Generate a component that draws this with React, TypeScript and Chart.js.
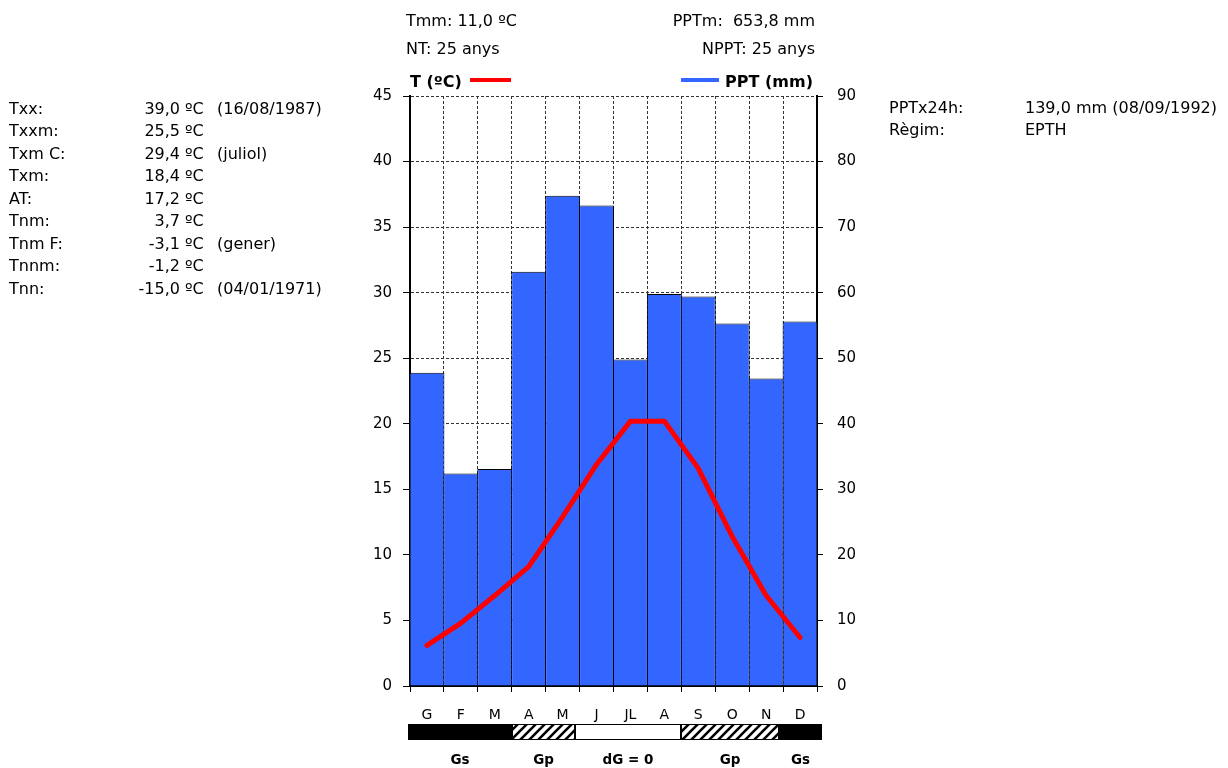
import React, { useEffect, useRef } from 'react';
import { Chart, registerables } from 'chart.js';

Chart.register(...registerables);

// ---- data ----
const months = ['G', 'F', 'M', 'A', 'M', 'J', 'JL', 'A', 'S', 'O', 'N', 'D'];
const precipitation = [47.8, 32.4, 33.1, 63.2, 74.8, 73.3, 49.8, 59.8, 59.4, 55.3, 46.9, 55.6];
const temperature = [3.1, 4.8, 6.9, 9.1, 12.9, 16.9, 20.2, 20.2, 16.6, 11.4, 6.9, 3.7];
const tempMax = 45;
const tempStep = 5;
const pptMax = 90;
const pptStep = 10;

const growthLabels = ['Gs', 'Gp', 'dG = 0', 'Gp', 'Gs'];
const growthFrom = [0, 3, 4.87, 8, 10.88];
const growthTo = [3, 4.87, 8, 10.88, 12];

const headerLeft = ['Tmm: 11,0 ºC', 'NT: 25 anys'];
const headerRight = ['PPTm:  653,8 mm', 'NPPT: 25 anys'];
const legendTemp = 'T (ºC)';
const legendPpt = 'PPT (mm)';

const statLabels = ['Txx:', 'Txxm:', 'Txm C:', 'Txm:', 'AT:', 'Tnm:', 'Tnm F:', 'Tnnm:', 'Tnn:'];
const statValues = ['39,0', '25,5', '29,4', '18,4', '17,2', '3,7', '-3,1', '-1,2', '-15,0'];
const statNotes = ['(16/08/1987)', '', '(juliol)', '', '', '', '(gener)', '', '(04/01/1971)'];

const sideLabels = ['PPTx24h:', 'Règim:'];
const sideValues = ['139,0 mm', 'EPTH'];
const sideNotes = ['(08/09/1992)', ''];

const FONT = '"DejaVu Sans", Verdana, sans-serif';
const W = 1228;
const H = 768;

function makeHatch(ctx: CanvasRenderingContext2D) {
  const s = 9;
  const c = document.createElement('canvas');
  c.width = s;
  c.height = s;
  const g = c.getContext('2d') as CanvasRenderingContext2D;
  g.fillStyle = '#fff';
  g.fillRect(0, 0, s, s);
  g.strokeStyle = '#000';
  g.lineWidth = 2.6;
  g.beginPath();
  g.moveTo(-2, s + 2);
  g.lineTo(s + 2, -2);
  g.moveTo(-2, 2);
  g.lineTo(2, -2);
  g.moveTo(s - 2, s + 2);
  g.lineTo(s + 2, s - 2);
  g.stroke();
  return ctx.createPattern(c, 'repeat');
}

const stripPlugin = {
  id: 'growthStrip',
  afterDraw(chart: any) {
    const { ctx, chartArea, scales } = chart;
    const xs = scales.x;
    const top = Math.round(chartArea.bottom + 38);
    const h = 16;
    const px = (u: number) => xs.getPixelForValue(u - 0.5);
    const hatch = makeHatch(ctx);
    ctx.save();
    const n = growthLabels.length;
    for (let i = 0; i < n; i++) {
      let x0 = px(growthFrom[i]);
      let x1 = px(growthTo[i]);
      if (i === 0) x0 -= 2;
      if (i === n - 1) x1 += 5;
      x0 = Math.round(x0);
      x1 = Math.round(x1);
      const code = growthLabels[i];
      ctx.fillStyle = code === 'Gs' ? '#000' : code === 'Gp' ? hatch : '#fff';
      ctx.fillRect(x0, top, x1 - x0, h);
      ctx.strokeStyle = '#000';
      ctx.lineWidth = 1;
      ctx.strokeRect(x0 + 0.5, top + 0.5, x1 - x0 - 1, h - 1);
      ctx.fillStyle = '#000';
      ctx.font = `bold 13.5px ${FONT}`;
      ctx.textAlign = 'center';
      ctx.textBaseline = 'alphabetic';
      ctx.fillText(code, (x0 + x1) / 2, top + 39.5);
    }
    ctx.restore();
  },
};

function Txt(props: { x: number; y: number; size?: number; bold?: boolean; align?: string; children: any }) {
  const size = props.size ?? 16;
  const style: any = {
    position: 'absolute',
    top: props.y - 0.846 * size,
    fontSize: size,
    lineHeight: `${size}px`,
    fontWeight: props.bold ? 'bold' : 'normal',
    whiteSpace: 'pre',
    fontFamily: FONT,
    color: '#000',
  };
  if (props.align === 'right') style.right = W - props.x;
  else style.left = props.x;
  return <div style={style}>{props.children}</div>;
}

export default function App() {
  const ref = useRef<HTMLCanvasElement | null>(null);

  useEffect(() => {
    if (!ref.current) return;
    const gridDash = [3, 2];
    const chart = new Chart(ref.current, {
      type: 'bar',
      data: {
        labels: months,
        datasets: [
          {
            type: 'line',
            label: legendTemp,
            data: temperature,
            yAxisID: 'y',
            borderColor: '#ff0000',
            borderWidth: 5,
            pointRadius: 0,
            tension: 0,
            borderCapStyle: 'round',
            borderJoinStyle: 'round',
            order: 0,
          } as any,
          {
            type: 'bar',
            label: legendPpt,
            data: precipitation,
            yAxisID: 'y1',
            backgroundColor: '#3366ff',
            borderColor: '#000',
            borderWidth: { top: 1, left: 1, right: 1, bottom: 0 },
            borderSkipped: 'bottom',
            barPercentage: 1.03,
            categoryPercentage: 1,
            order: 1,
          } as any,
        ],
      },
      options: {
        responsive: false,
        animation: false,
        devicePixelRatio: 1,
        layout: { padding: { top: 96, left: 0, right: 0, bottom: 0 } },
        plugins: { legend: { display: false }, tooltip: { enabled: false }, title: { display: false } },
        scales: {
          x: {
            type: 'category',
            offset: true,
            grid: {
              display: true,
              offset: true,
              color: '#333',
              tickColor: '#000',
              lineWidth: 1,
              drawTicks: true,
              tickLength: 6,
            },
            border: { display: true, color: '#000', width: 2, dash: gridDash },
            ticks: {
              color: '#000',
              font: { family: FONT, size: 14 },
              padding: 15,
              maxRotation: 0,
              autoSkip: false,
            },
            afterFit: (s: any) => {
              s.height = H - 686;
            },
          },
          y: {
            position: 'left',
            min: 0,
            max: tempMax,
            ticks: { stepSize: tempStep, color: '#000', font: { family: FONT, size: 15 }, padding: 11 },
            grid: { color: '#333', tickColor: '#000', lineWidth: 1, drawTicks: true, tickLength: 7 },
            border: { display: true, color: '#000', width: 2, dash: gridDash },
            afterFit: (s: any) => {
              s.width = 410;
            },
          },
          y1: {
            position: 'right',
            min: 0,
            max: pptMax,
            ticks: { stepSize: pptStep, color: '#000', font: { family: FONT, size: 15 }, padding: 14 },
            grid: { drawOnChartArea: false, color: '#000', tickColor: '#000', drawTicks: true, tickLength: 6 },
            border: { display: true, color: '#000', width: 2 },
            afterFit: (s: any) => {
              s.width = W - 817;
            },
          },
        },
      } as any,
      plugins: [stripPlugin],
    });
    return () => chart.destroy();
  }, []);

  return (
    <div
      style={{
        position: 'fixed',
        left: 0,
        top: 0,
        width: W,
        height: H,
        background: '#fff',
        overflow: 'hidden',
      }}
    >
      <canvas ref={ref} width={W} height={H} style={{ position: 'absolute', left: 0, top: 0, width: W, height: H }} />

      <Txt x={406} y={26.5}>{headerLeft[0]}</Txt>
      <Txt x={406} y={54.5}>{headerLeft[1]}</Txt>
      <Txt x={815} y={26.5} align="right">{headerRight[0]}</Txt>
      <Txt x={815} y={54.5} align="right">{headerRight[1]}</Txt>

      <Txt x={410} y={87.3} bold>{legendTemp}</Txt>
      <div style={{ position: 'absolute', left: 470, top: 78, width: 41, height: 4, background: '#ff0000' }} />
      <div style={{ position: 'absolute', left: 681, top: 78, width: 38, height: 4, background: '#3366ff' }} />
      <Txt x={813} y={87.3} bold align="right">{legendPpt}</Txt>

      {statLabels.map((lab, i) => (
        <React.Fragment key={'s' + i}>
          <Txt x={9} y={114.5 + 22.45 * i}>{lab}</Txt>
          <Txt x={180} y={114.5 + 22.45 * i} align="right">{statValues[i]}</Txt>
          <Txt x={185} y={114.5 + 22.45 * i}>{'ºC'}</Txt>
          {statNotes[i] ? <Txt x={217} y={114.5 + 22.45 * i}>{statNotes[i]}</Txt> : null}
        </React.Fragment>
      ))}

      {sideLabels.map((lab, i) => (
        <React.Fragment key={'r' + i}>
          <Txt x={889} y={113.5 + 22.45 * i}>{lab}</Txt>
          <Txt x={1025} y={113.5 + 22.45 * i}>{sideValues[i]}</Txt>
          {sideNotes[i] ? <Txt x={1217} y={113.5 + 22.45 * i} align="right">{sideNotes[i]}</Txt> : null}
        </React.Fragment>
      ))}
    </div>
  );
}
